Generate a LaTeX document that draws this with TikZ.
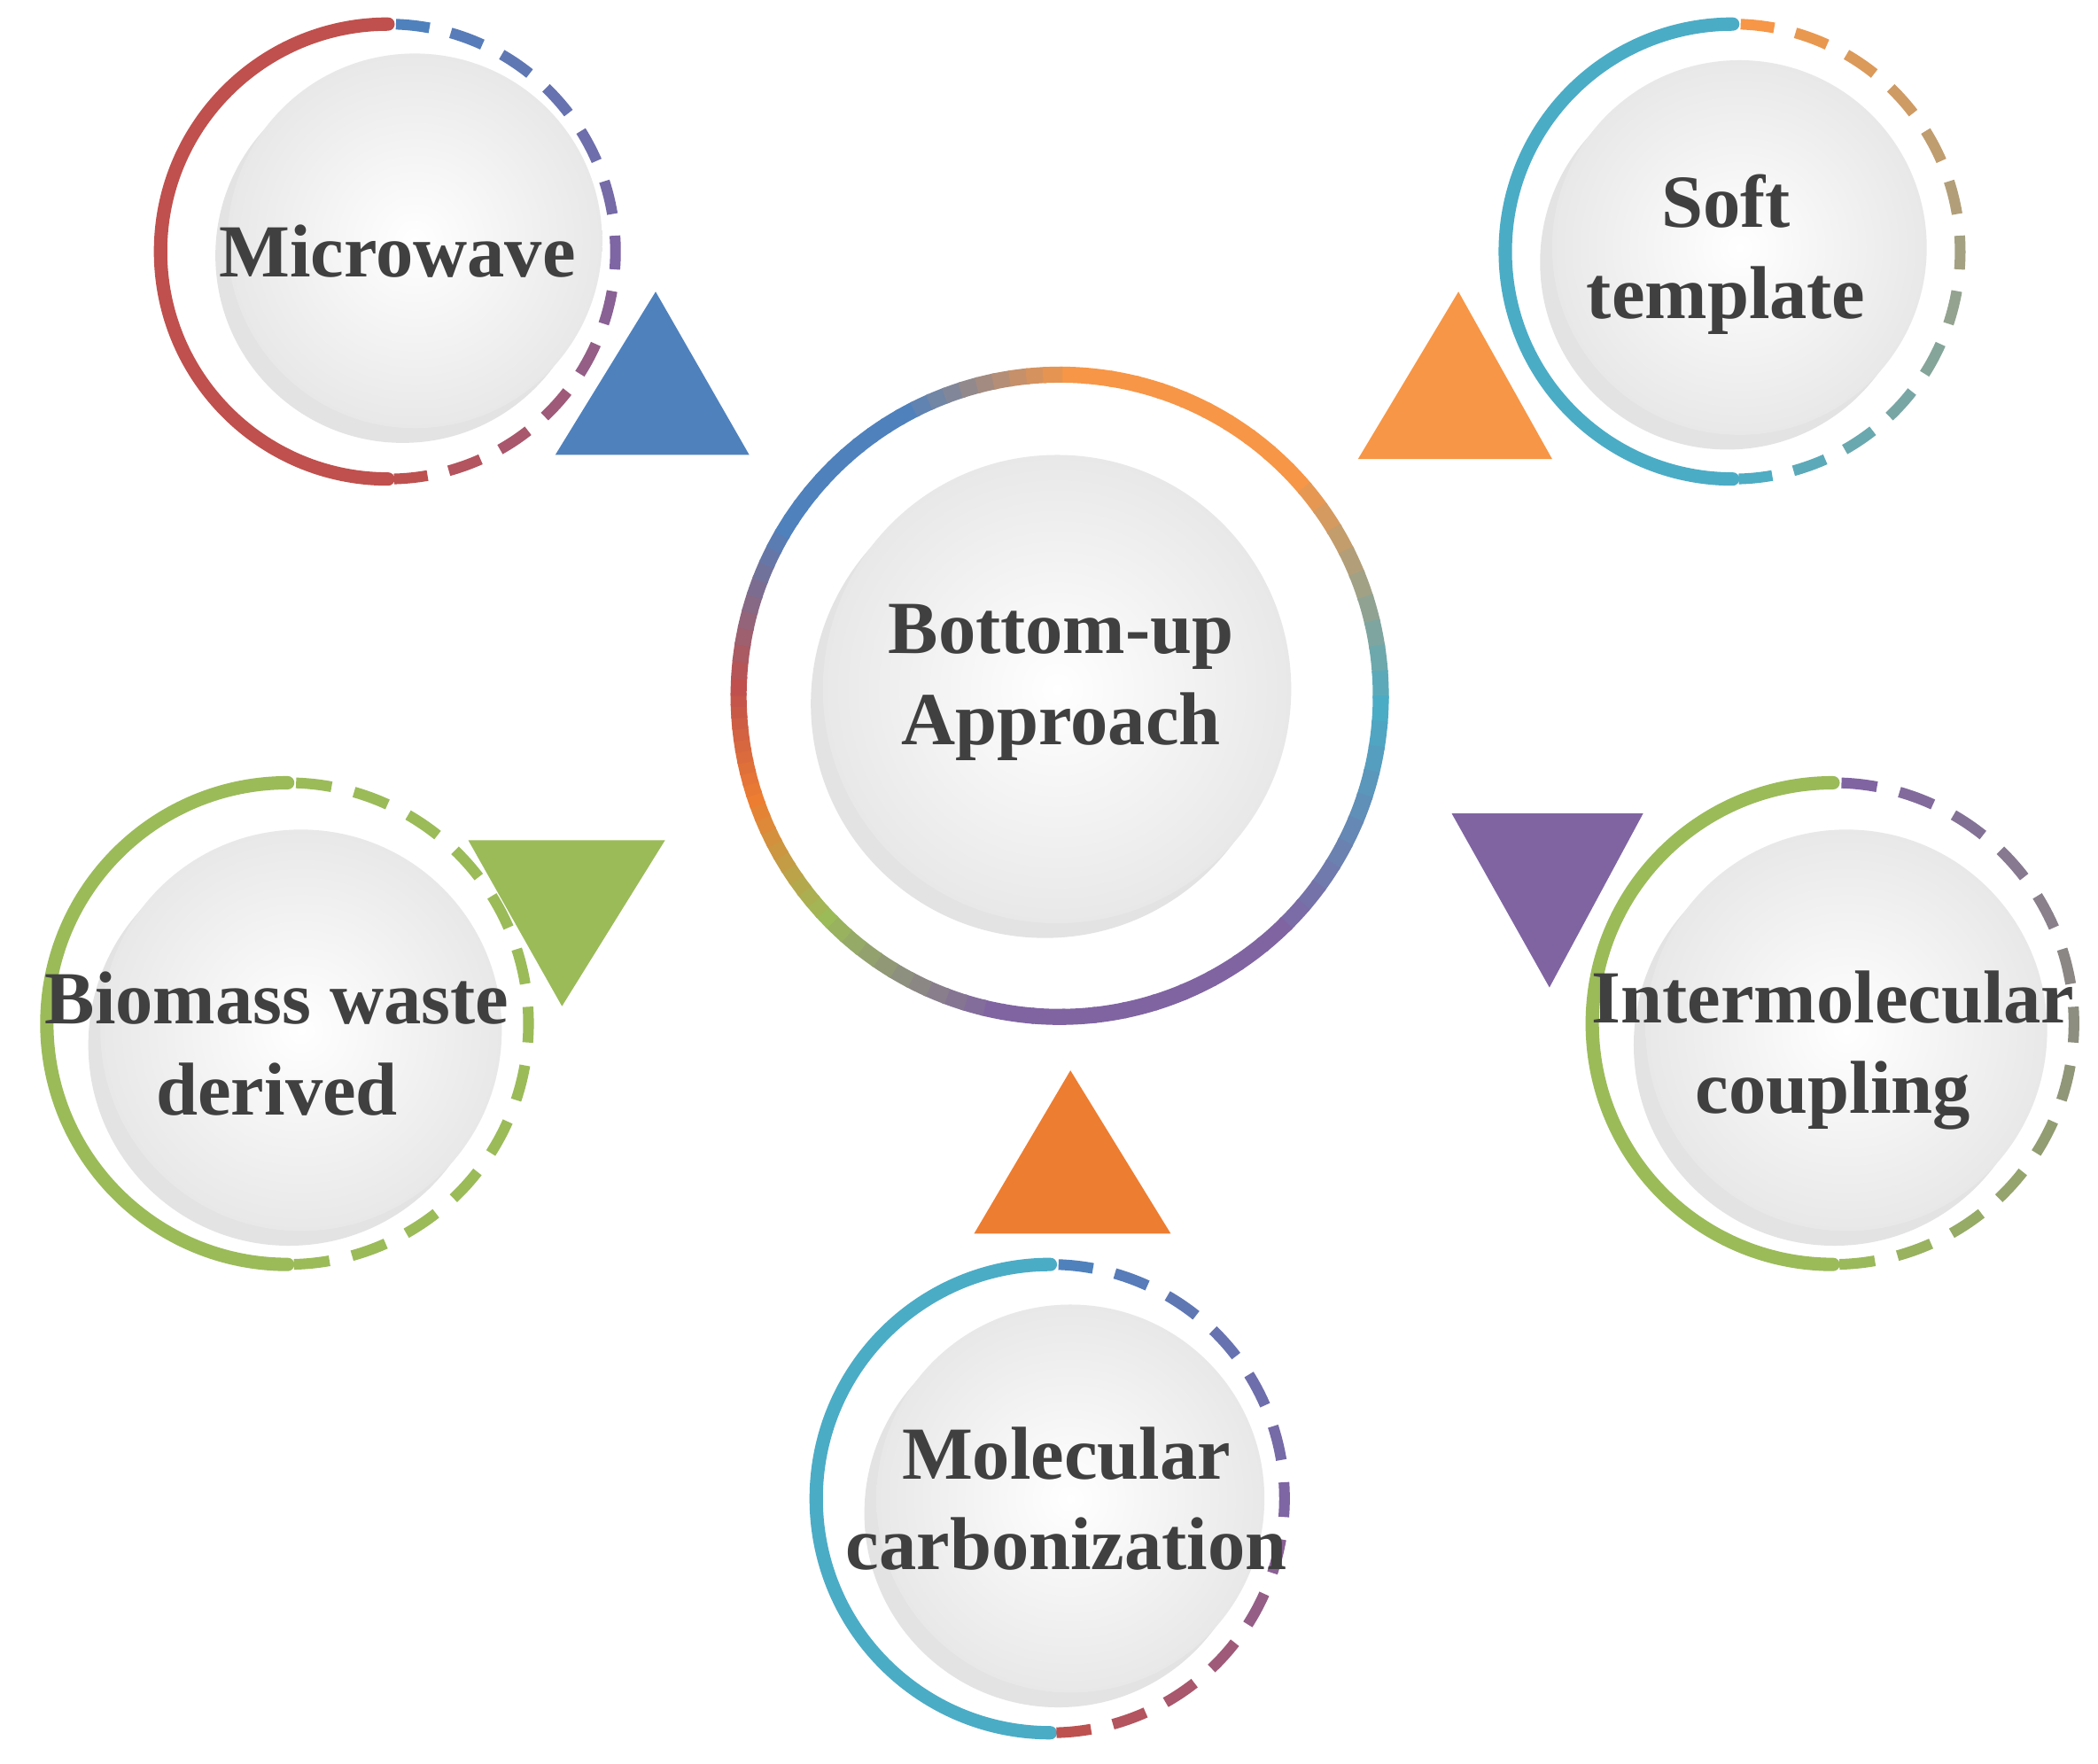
\documentclass[tikz,border=0pt]{standalone}
\usepackage{fontspec}
\setmainfont{Liberation Serif}
\definecolor{cR}{HTML}{C0504D}
\definecolor{cB}{HTML}{4F81BD}
\definecolor{cO}{HTML}{F79646}
\definecolor{cC}{HTML}{4BACC6}
\definecolor{cG}{HTML}{9BBB59}
\definecolor{cP}{HTML}{8064A2}
\definecolor{cD}{HTML}{ED7D31}
\definecolor{txt}{HTML}{404040}
\colorlet{cOC}{cO!50!cC}
\colorlet{cPG}{cP!50!cG}
\newcommand\mydisk[3]{%
  \fill[gray!22] (#1-9,#2-11) circle (#3);
  \shade[inner color=white, outer color=gray!18] (#1,#2) circle (#3);}
\newcommand\myring[8]{% cx cy r solid c1 c2 c3 unused
  \draw[line width=10, color=#4, line cap=round] (#1,#2)++(90:#3) arc (90:270:#3);
  \foreach \i in {0,...,12}{%
    \pgfmathsetmacro\aa{88-\i*14}%
    \pgfmathsetmacro\bb{\aa-8.5}%
    \ifnum\i<7 \pgfmathtruncatemacro\p{100-\i*16}\colorlet{dc}{#5!\p!#6}%
    \else \pgfmathtruncatemacro\p{100-(\i-6)*16}\colorlet{dc}{#6!\p!#7}\fi
    \draw[line width=8, color=dc] (#1,#2)++(\aa:#3) arc (\aa:\bb:#3);
  }}
\begin{document}
\begin{tikzpicture}[x=1pt,y=1pt,
  lab/.style={text=txt, font=\fontsize{56}{68}\selectfont\bfseries, align=center}]
\useasboundingbox[fill=white] (0,0) rectangle (1568,-1318);
% center
\mydisk{790}{-515}{175}
\foreach \s/\e/\ca/\cb in {90/45/cO/cO,45/0/cO/cC,0/-45/cC/cP,-45/-100/cP/cP,-100/-135/cP/cG,-135/-160/cG/cD,-160/-180/cD/cR,180/150/cR/cB,150/120/cB/cB,120/90/cB/cO}{
  \foreach \k in {0,...,9}{
    \pgfmathsetmacro\aa{\s+(\e-\s)*\k/10}
    \pgfmathsetmacro\bb{\s+(\e-\s)*(\k+1)/10+0.5*sign(\e-\s)}
    \pgfmathtruncatemacro\p{100-\k*10}
    \colorlet{rc}{\ca!\p!\cb}
    \draw[line width=12, color=rc] (792,-520)++(\aa:240) arc (\aa:\bb:240);
  }}
\node[lab] (center) at (793,-510) {Bottom-up\\Approach};
% satellites
\mydisk{310}{-180}{140}
\myring{290}{-188}{170}{cR}{cB}{cP}{cR}{}
\node[lab] (mw) at (297,-188) {Microwave};
\mydisk{1300}{-185}{140}
\myring{1295}{-188}{170}{cC}{cO}{cOC}{cC}{}
\node[lab] (st) at (1290,-190) {Soft\\template};
\mydisk{1380}{-770}{150}
\myring{1370}{-765}{180}{cG}{cP}{cPG}{cG}{}
\node[lab] (im) at (1370,-785) {Intermolecular\\coupling};
\mydisk{225}{-770}{150}
\myring{215}{-765}{180}{cG}{cG}{cG}{cG}{}
\node[lab] (bw) at (207,-780) {Biomass waste\\derived};
\mydisk{800}{-1120}{145}
\myring{785}{-1120}{175}{cC}{cB}{cP}{cR}{}
\node[lab] (mc) at (797,-1120) {Molecular\\carbonization};
% triangles
\fill[cB] (415,-340) -- (560,-340) -- (490,-218) -- cycle;
\fill[cO] (1015,-343) -- (1160,-343) -- (1090,-218) -- cycle;
\fill[cP] (1085,-608) -- (1228,-608) -- (1158,-738) -- cycle;
\fill[cG] (350,-628) -- (497,-628) -- (420,-752) -- cycle;
\fill[cD] (728,-922) -- (875,-922) -- (800,-800) -- cycle;
\end{tikzpicture}
\end{document}
